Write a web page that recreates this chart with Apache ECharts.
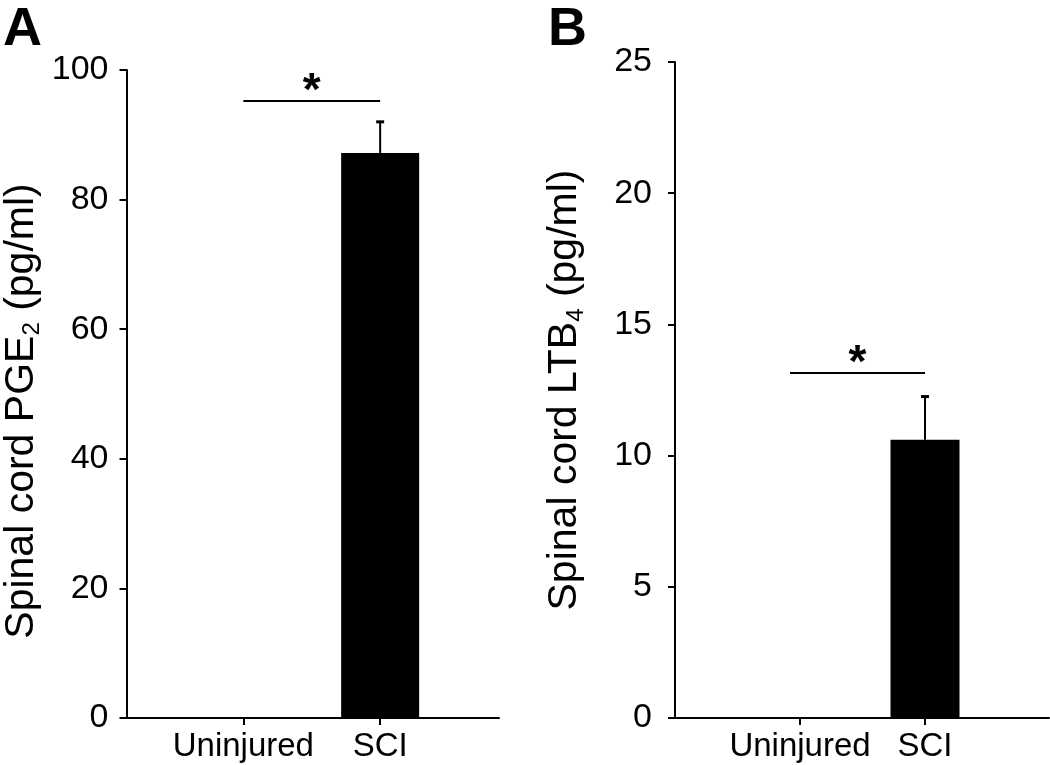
<!DOCTYPE html>
<html>
<head>
<meta charset="utf-8">
<script src="https://cdn.jsdelivr.net/npm/echarts@6/dist/echarts.min.js"></script>
<style>html,body{margin:0;padding:0;background:#fff}#c{width:1050px;height:765px}</style>
</head>
<body>
<div id="c"></div>
<script>
// ---- data ----
var categories = ['Uninjured', 'SCI'];
var pgeMeans = [0, 87.2];
var pgeErrs = [0, 4.8];
var ltbMeans = [0, 10.6];
var ltbErrs = [0, 1.65];
var pgeTicks = [0, 20, 40, 60, 80, 100];
var ltbTicks = [0, 5, 10, 15, 20, 25];
var pgeSig = [1, 2, 95.2];   // bracket from category 1 to 2 at this y value
var ltbSig = [0.92, 2, 13.15];

var FONT = '"Liberation Sans", Arial, Helvetica, sans-serif';
var catPos = categories.map(function (c, i) { return i + 1; });

function barData(means) {
  return means.map(function (m, i) { return [catPos[i], m]; }).filter(function (d) { return d[1] > 0; });
}
function errData(means, errs) {
  return means.map(function (m, i) { return [catPos[i], m, errs[i]]; }).filter(function (d) { return d[2] > 0; });
}

function errRender(params, api) {
  var x = api.value(0), m = api.value(1), e = api.value(2);
  var p0 = api.coord([x, m]);
  var p1 = api.coord([x, m + e]);
  return {
    type: 'group',
    children: [
      { type: 'line', shape: { x1: p0[0], y1: p0[1], x2: p1[0], y2: p1[1] }, style: { stroke: '#000', lineWidth: 2 } },
      { type: 'rect', shape: { x: p1[0] - 4, y: p1[1] - 1.5, width: 8, height: 3 }, style: { fill: '#000' } }
    ]
  };
}
function sigRender(params, api) {
  var x0 = api.value(0), x1 = api.value(1), y = api.value(2);
  var a = api.coord([x0, y]);
  var b = api.coord([x1, y]);
  return {
    type: 'group',
    children: [
      { type: 'line', shape: { x1: a[0], y1: a[1], x2: b[0], y2: b[1] }, style: { stroke: '#000', lineWidth: 2 } },
      { type: 'text', x: (a[0] + b[0]) / 2, y: a[1] + 14,
        style: { text: '*', font: 'bold 46px ' + FONT, fill: '#000', align: 'center', verticalAlign: 'bottom' } }
    ]
  };
}

function yAxisCfg(gi, ticks, nameMain, sub, nameGap, shift) {
  return {
    type: 'value', gridIndex: gi, min: ticks[0], max: ticks[ticks.length - 1],
    interval: ticks[1] - ticks[0],
    name: '{m|' + nameMain + '}{s|' + sub + '}{m| (pg/ml)}',
    nameLocation: 'middle', nameRotate: 90, nameGap: nameGap,
    nameTextStyle: {
      padding: [0, shift, 0, 0],
      rich: {
        m: { fontSize: 41, fontFamily: FONT, color: '#000', lineHeight: 46 },
        s: { fontSize: 24, fontFamily: FONT, color: '#000', lineHeight: 46, verticalAlign: 'bottom' }
      }
    },
    axisLine: { show: true, lineStyle: { color: '#000', width: 2 } },
    axisTick: { show: true, inside: false, length: 7, lineStyle: { color: '#000', width: 2 } },
    axisLabel: { fontSize: 34, fontFamily: FONT, color: '#000', margin: 18 },
    splitLine: { show: false }
  };
}
function xAxisCfg(gi, min, max) {
  return {
    type: 'value', gridIndex: gi, min: min, max: max,
    axisLine: { show: true, onZero: false, lineStyle: { color: '#000', width: 2 } },
    axisTick: { show: true, length: 7, customValues: catPos, lineStyle: { color: '#000', width: 2 } },
    axisLabel: {
      fontSize: 33, fontFamily: FONT, color: '#000', margin: 12, customValues: catPos,
      formatter: function (v) { return categories[Math.round(v) - 1] || ''; }
    },
    splitLine: { show: false }
  };
}

var chart = echarts.init(document.getElementById('c'), null, { renderer: 'canvas' });
chart.setOption({
  backgroundColor: '#fff',
  animation: false,
  title: [
    { text: 'A', left: -2, top: -2, textStyle: { fontSize: 54, fontWeight: 'bold', fontFamily: FONT, color: '#000' } },
    { text: 'B', left: 543, top: -2, textStyle: { fontSize: 54, fontWeight: 'bold', fontFamily: FONT, color: '#000' } }
  ],
  grid: [
    { left: 126, top: 70, width: 373, height: 648 },
    { left: 670, top: 62, width: 379, height: 656 }
  ],
  xAxis: [
    xAxisCfg(0, 1 - 117 / 137, 2 + 119 / 137),
    xAxisCfg(1, 1 - 130 / 125, 2 + 124 / 125)
  ],
  yAxis: [
    yAxisCfg(0, pgeTicks, 'Spinal cord PGE', '2', 82, 34),
    yAxisCfg(1, ltbTicks, 'Spinal cord LTB', '4', 82, 0)
  ],
  series: [
    { type: 'bar', xAxisIndex: 0, yAxisIndex: 0, barWidth: 78, itemStyle: { color: '#000' }, data: barData(pgeMeans) },
    { type: 'custom', xAxisIndex: 0, yAxisIndex: 0, renderItem: errRender, data: errData(pgeMeans, pgeErrs), z: 5 },
    { type: 'custom', xAxisIndex: 0, yAxisIndex: 0, renderItem: sigRender, data: [pgeSig], z: 5 },
    { type: 'bar', xAxisIndex: 1, yAxisIndex: 1, barWidth: 69, itemStyle: { color: '#000' }, data: barData(ltbMeans) },
    { type: 'custom', xAxisIndex: 1, yAxisIndex: 1, renderItem: errRender, data: errData(ltbMeans, ltbErrs), z: 5 },
    { type: 'custom', xAxisIndex: 1, yAxisIndex: 1, renderItem: sigRender, data: [ltbSig], z: 5 }
  ]
});
</script>
</body>
</html>
